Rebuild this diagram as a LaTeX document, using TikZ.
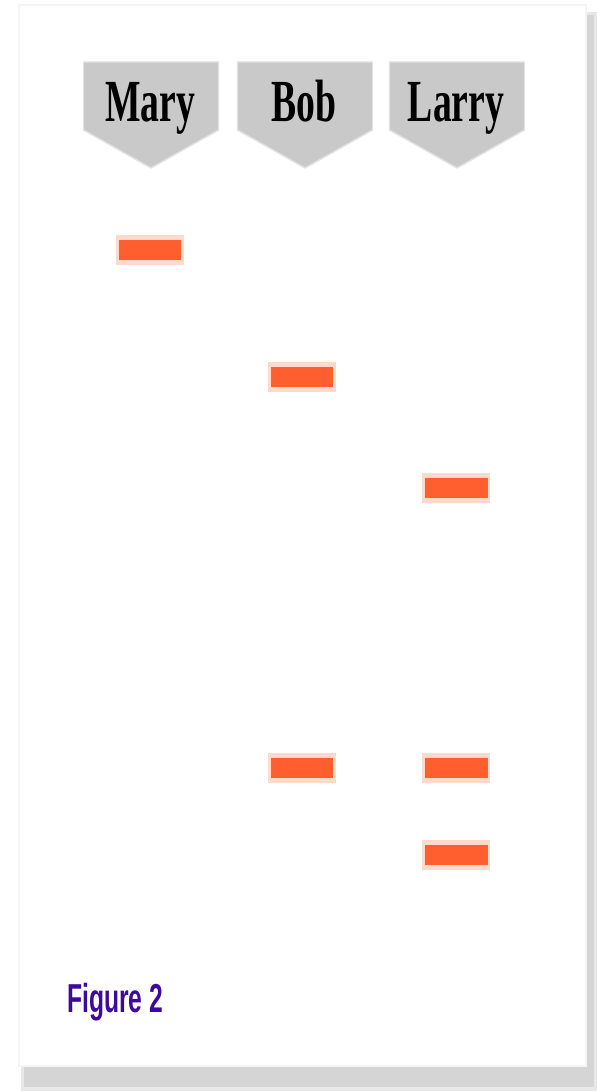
\documentclass[tikz,border=0pt]{standalone}
\usepackage{fontspec}
\setmainfont{Liberation Serif}
\newfontfamily\figfont{Liberation Sans}
\usetikzlibrary{calc,backgrounds}
\pgfdeclarelayer{glow}
\pgfsetlayers{background,glow,main}
\definecolor{bandorange}{HTML}{FF5F2E}
\definecolor{bandglow}{HTML}{FFD9CC}
\definecolor{tabgray}{HTML}{C9C9C9}
\definecolor{tabedge}{HTML}{E2E2E2}
\definecolor{figpurple}{HTML}{3D0A9E}
\tikzset{
    tabname/.style={
        font=\fontsize{34}{40}\selectfont\bfseries, xscale=0.63, anchor=base
    },
    band/.style={
        fill=bandorange, minimum width=1.26cm, minimum height=0.4cm, inner sep=0pt
    }
}

\begin{document}
\begin{tikzpicture}[x=0.02cm,y=-0.02cm, line cap=round, line join=round]

\useasboundingbox (0,0) rectangle (597,1091);

% card with its shadow
\begin{scope}[on background layer]
\fill[gray!18] (21,12) rectangle (597,1091);
\fill[gray!33] (24,15) rectangle (594,1087);
\filldraw[fill=white, draw=gray!8, line width=1.6pt] (19,5) rectangle (586,1066);
\end{scope}

\def\tabtop{62}
\def\tabmid{130}
\def\tabtip{168}
\def\tabhalf{67.5}

% lane headers
\foreach \who/\cx in {Mary/151, Bob/305, Larry/457} {
  \filldraw[fill=tabgray, draw=tabedge, line width=0.8pt]
    (\cx-\tabhalf,\tabtop) -- (\cx+\tabhalf,\tabtop) -- (\cx+\tabhalf,\tabmid)
    -- (\cx,\tabtip) -- (\cx-\tabhalf,\tabmid) -- cycle;
  \node[tabname] (lbl\who) at (\cx-1,122) {\who};
}

% bands
\node[band] (bandA) at (150,250) {};
\node[band] (bandB) at (302,377) {};
\node[band] (bandC) at (456,488) {};
\node[band] (bandD) at (302,768) {};
\node[band] (bandE) at (456,768) {};
\node[band] (bandF) at (456,855) {};

% soft halo round each band
\begin{pgfonlayer}{glow}
\foreach \b in {bandA,bandB,bandC,bandD,bandE,bandF}
  \fill[bandglow] ($(\b.south west)+(-2,5)$) rectangle ($(\b.north east)+(2,-5)$);
\end{pgfonlayer}

\node[anchor=base west, text=figpurple, font=\figfont\bfseries\fontsize{23}{28}\selectfont, xscale=0.61, inner sep=0pt]
  (figlbl) at (67,1012) {Figure 2};

\end{tikzpicture}
\end{document}
